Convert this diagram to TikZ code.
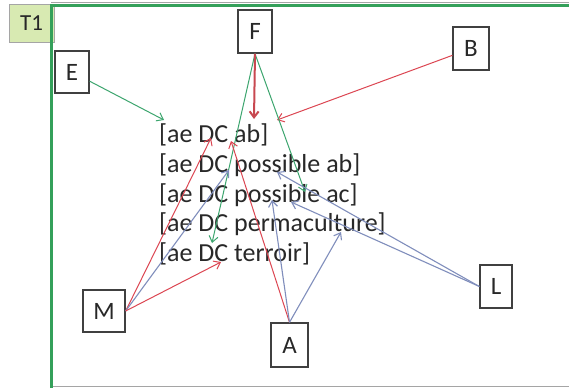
\documentclass[tikz,border=0pt]{standalone}
\usepackage{fontspec}
\setmainfont{Carlito}
\usetikzlibrary{arrows.meta}
\definecolor{frgreen}{RGB}{52,160,90}
\definecolor{argreen}{RGB}{60,165,110}
\definecolor{arred}{RGB}{220,70,82}
\definecolor{arredd}{RGB}{200,72,80}
\definecolor{arblue}{RGB}{128,142,188}
\definecolor{boxgray}{RGB}{64,64,64}
\definecolor{tonefill}{RGB}{216,234,178}
\definecolor{toneline}{RGB}{165,165,165}
\definecolor{textgray}{RGB}{40,40,40}
\begin{document}
\begin{tikzpicture}[x=1pt,y=-1pt,
  agent/.style={draw=boxgray,line width=1.3pt,fill=white,inner sep=0pt,
    minimum width=35pt,minimum height=43pt,font=\fontsize{25}{30}\selectfont,text=textgray},
  stmt/.style={anchor=base west,inner sep=0pt,font=\fontsize{26}{30}\selectfont,text=textgray},
  tip/.style={-{Straight Barb[length=6pt,width=9pt]}},
  gline/.style={tip,draw=argreen,line width=1pt},
  rline/.style={tip,draw=arred,line width=1pt},
  bline/.style={tip,draw=arblue,line width=1.1pt},
]
\useasboundingbox (0,0) rectangle (569,388);
\fill[white] (0,0) rectangle (569,388);
% T1 tag
\node[draw=toneline,fill=tonefill,line width=1pt,minimum width=45pt,minimum height=38pt,
  inner sep=0pt,font=\fontsize{23}{28}\selectfont,text=textgray] (T1) at (31.5,23) {T1};
% frame
\draw[toneline,line width=0.8pt] (51,386.5) -- (569,386.5);
\draw[toneline,line width=0.8pt] (51,2) -- (569,2);
\draw[frgreen,line width=3pt] (51,388) -- (51,5) -- (569,5);
% agents
\node[agent,minimum width=34pt,minimum height=42pt] (E) at (72,72) {E};
\node[agent,minimum width=34pt,minimum height=43pt] (F) at (255,31.5) {F};
\node[agent,minimum width=36pt,minimum height=43pt] (B) at (471,48.5) {B};
\node[agent,minimum width=42pt,minimum height=42pt] (M) at (104,311) {M};
\node[agent,minimum width=37pt,minimum height=44pt] (A) at (289.5,345) {A};
\node[agent,minimum width=32pt,minimum height=43pt] (L) at (496,286.5) {L};
% statements
\node[stmt] (s1) at (159,142) {[ae DC ab]};
\node[stmt] (s2) at (159,172) {[ae DC possible ab]};
\node[stmt] (s3) at (159,202) {[ae DC possible ac]};
\node[stmt] (s4) at (159,231.5) {[ae DC permaculture]};
\node[stmt] (s5) at (159,261) {[ae DC terroir]};
% arrow tips
\coordinate (tE) at (164,120);
\coordinate (tB) at (277,120);
\coordinate (tF1) at (254,119);
\coordinate (tF2) at (212,243);
\coordinate (tF3) at (305,192);
\coordinate (tM1) at (211,138);
\coordinate (tM2) at (229,170);
\coordinate (tM3) at (221,262);
\coordinate (tA1) at (231,141);
\coordinate (tA2) at (272,200);
\coordinate (tA3) at (341,232);
\coordinate (tL1) at (277,172);
\coordinate (tL2) at (291,202);
% connectors
\draw[gline] (E) -- (tE);
\draw[rline] (B) -- (tB);
\draw[gline] (F.south) -- (tF2);
\draw[gline] (F.south) -- (tF3);
\draw[tip,draw=arredd,line width=2pt] (F.south) -- (tF1);
\draw[rline] (M.east) -- (tM1);
\draw[bline] (M.east) -- (tM2);
\draw[rline] (M.east) -- (tM3);
\draw[rline] (A.north) -- (tA1);
\draw[bline] (A.north) -- (tA2);
\draw[bline] (A.north) -- (tA3);
\draw[bline] (L.west) -- (tL1);
\draw[bline] (L.west) -- (tL2);
\end{tikzpicture}
\end{document}
